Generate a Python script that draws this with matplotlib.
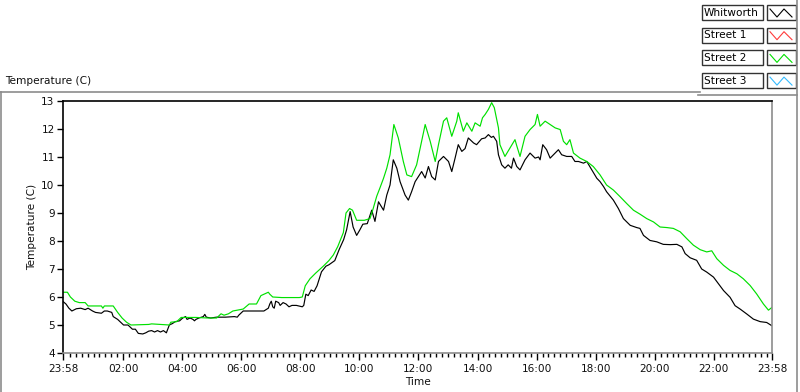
import numpy as np
import matplotlib
matplotlib.use("Agg")
import matplotlib.pyplot as plt
from matplotlib.lines import Line2D
from matplotlib.patches import Rectangle

# ---- data (hours since 23:58) ----
hours_whitworth = [0.0, 0.1, 0.2, 0.3, 0.45, 0.6, 0.75, 0.85, 1.0, 1.1, 1.3, 1.4, 1.5, 1.65, 1.7, 1.85,
                   1.95, 2.05, 2.2, 2.35, 2.45, 2.55, 2.7, 2.8, 2.9, 3.0, 3.1, 3.2, 3.3, 3.4, 3.5, 3.52,
                   3.6, 3.7, 3.8, 3.95, 4.05, 4.15, 4.2, 4.3, 4.4, 4.45, 4.5, 4.6, 4.75, 4.8, 4.85, 5.0,
                   5.2, 5.5, 5.8, 5.9, 5.95, 6.1, 6.4, 6.8, 6.95, 7.0, 7.05, 7.1, 7.15, 7.2, 7.3, 7.35,
                   7.45, 7.55, 7.65, 7.75, 7.9, 8.1, 8.15, 8.22, 8.3, 8.4, 8.5, 8.6, 8.75, 8.9, 9.0, 9.2,
                   9.35, 9.5, 9.6, 9.72, 9.82, 9.94, 10.05, 10.15, 10.3, 10.45, 10.56, 10.68, 10.85, 10.96,
                   11.07, 11.18, 11.3, 11.41, 11.58, 11.69, 11.8, 11.92, 12.03, 12.14, 12.26, 12.37, 12.48,
                   12.6, 12.71, 12.88, 13.05, 13.16, 13.27, 13.38, 13.5, 13.61, 13.72, 13.9, 14.0, 14.17,
                   14.29, 14.4, 14.5, 14.57, 14.68, 14.74, 14.85, 14.96, 15.07, 15.18, 15.25, 15.36, 15.47,
                   15.64, 15.81, 15.98, 16.1, 16.15, 16.24, 16.37, 16.49, 16.66, 16.77, 16.88, 17.05, 17.22,
                   17.33, 17.45, 17.62, 17.73, 17.9, 18.07, 18.18, 18.3, 18.4, 18.63, 18.8, 18.97, 19.2,
                   19.42, 19.53, 19.65, 19.87, 20.1, 20.32, 20.55, 20.78, 20.95, 21.06, 21.23, 21.45, 21.62,
                   21.79, 22.02, 22.19, 22.36, 22.58, 22.75, 22.92, 23.15, 23.37, 23.6, 23.82, 24.0]
temp_whitworth = [5.84, 5.75, 5.6, 5.5, 5.58, 5.6, 5.55, 5.6, 5.5, 5.45, 5.42, 5.5, 5.5, 5.45, 5.3, 5.2,
                  5.1, 5.0, 5.0, 4.85, 4.85, 4.7, 4.68, 4.72, 4.78, 4.8, 4.75, 4.8, 4.75, 4.8, 4.72, 4.78,
                  5.0, 5.05, 5.12, 5.15, 5.25, 5.3, 5.2, 5.25, 5.2, 5.15, 5.2, 5.25, 5.3, 5.38, 5.28, 5.25,
                  5.28, 5.28, 5.3, 5.28, 5.35, 5.5, 5.5, 5.5, 5.6, 5.75, 5.85, 5.65, 5.6, 5.85, 5.8, 5.7,
                  5.8, 5.75, 5.65, 5.7, 5.7, 5.65, 5.7, 6.1, 6.05, 6.25, 6.2, 6.4, 6.9, 7.1, 7.15, 7.3,
                  7.7, 8.05, 8.4, 9.05, 8.5, 8.2, 8.4, 8.6, 8.62, 9.1, 8.7, 9.4, 9.1, 9.64,
                  10.0, 10.9, 10.6, 10.12, 9.64, 9.46, 9.76, 10.12, 10.3, 10.48, 10.25, 10.66, 10.3,
                  10.18, 10.84, 11.02, 10.84, 10.48, 10.95, 11.44, 11.2, 11.3, 11.68, 11.5, 11.44, 11.65,
                  11.68, 11.8, 11.7, 11.74, 11.56, 11.08, 10.72, 10.6, 10.72, 10.6, 10.96, 10.66, 10.54,
                  10.9, 11.14, 10.96, 11.0, 10.9, 11.44, 11.26, 10.96, 11.14, 11.26, 11.08, 11.02, 11.02,
                  10.84, 10.84, 10.78, 10.84, 10.54, 10.24, 10.12, 9.94, 9.76, 9.46, 9.16, 8.8, 8.56,
                  8.48, 8.45, 8.2, 8.02, 7.97, 7.88, 7.87, 7.88, 7.79, 7.55, 7.4, 7.31, 7.0,
                  6.89, 6.71, 6.47, 6.23, 5.99, 5.69, 5.57, 5.39, 5.21, 5.12, 5.09, 4.97]

hours_street2 = [0.0, 0.15, 0.25, 0.4, 0.55, 0.75, 0.85, 1.3, 1.35, 1.4, 1.7, 1.85, 2.0, 2.15, 2.3, 2.9,
                 3.0, 3.3, 3.6, 3.65, 3.85, 4.0, 4.5, 4.9, 5.2, 5.35, 5.45, 5.6, 5.75, 6.1, 6.3, 6.55,
                 6.6, 6.7, 6.95, 7.0, 7.1, 7.4, 8.0, 8.1, 8.2, 8.36, 8.55, 8.81, 9.0, 9.15, 9.3, 9.49,
                 9.58, 9.7, 9.8, 9.94, 10.2, 10.39, 10.5, 10.62, 10.73, 10.85, 10.96, 11.07, 11.2, 11.35,
                 11.52, 11.64, 11.8, 11.97, 12.14, 12.26, 12.43, 12.6, 12.71, 12.88, 12.99, 13.16, 13.33,
                 13.38, 13.55, 13.67, 13.84, 13.95, 14.12, 14.2, 14.29, 14.4, 14.51, 14.6, 14.74, 14.79,
                 14.96, 15.13, 15.3, 15.36, 15.47, 15.64, 15.81, 15.98, 16.06, 16.15, 16.32, 16.49, 16.66,
                 16.83, 16.94, 17.05, 17.16, 17.28, 17.5, 17.73, 17.95, 18.18, 18.4, 18.63, 18.86, 19.08,
                 19.31, 19.53, 19.76, 19.99, 20.21, 20.44, 20.66, 20.89, 21.11, 21.34, 21.57, 21.79,
                 21.96, 22.13, 22.36, 22.58, 22.81, 23.03, 23.26, 23.48, 23.71, 23.88, 24.0]
temp_street2 = [6.17, 6.17, 6.0, 5.85, 5.8, 5.8, 5.68, 5.68, 5.6, 5.68, 5.68, 5.45, 5.25, 5.1, 5.0, 5.02,
                5.04, 5.02, 5.0, 5.1, 5.12, 5.27, 5.27, 5.25, 5.25, 5.4, 5.35, 5.4, 5.5, 5.57, 5.75, 5.75,
                5.85, 6.05, 6.17, 6.1, 6.0, 5.98, 5.98, 6.0, 6.4, 6.65, 6.85, 7.1, 7.3, 7.5, 7.8, 8.3,
                9.0, 9.16, 9.1, 8.74, 8.74, 8.8, 9.16, 9.6, 9.9, 10.24, 10.6, 11.08, 12.16, 11.68,
                10.84, 10.36, 10.3, 10.72, 11.56, 12.16, 11.56, 10.84, 11.44, 12.28, 12.4, 11.74, 12.28,
                12.58, 11.92, 12.22, 11.92, 12.22, 12.1, 12.4, 12.52, 12.7, 12.94, 12.76, 12.04, 11.44,
                11.02, 11.32, 11.62, 11.4, 11.02, 11.74, 11.98, 12.16, 12.52, 12.1, 12.28, 12.16, 12.04,
                11.98, 11.56, 11.44, 11.62, 11.14, 10.96, 10.84, 10.66, 10.36, 10.0, 9.82, 9.58, 9.34,
                9.1, 8.96, 8.8, 8.68, 8.5, 8.48, 8.45, 8.33, 8.09, 7.85, 7.69, 7.61,
                7.65, 7.37, 7.13, 6.95, 6.83, 6.65, 6.41, 6.11, 5.75, 5.53, 5.63]

legend_names = ["Whitworth", "Street 1", "Street 2", "Street 3"]
legend_colors = ["#000000", "#ff3b3b", "#00e000", "#33bbff"]

x_tick_pos = [0.0] + [h + 2 / 60 for h in range(2, 24, 2)] + [24.0]
x_tick_labels = ["23:58", "02:00", "04:00", "06:00", "08:00", "10:00", "12:00",
                 "14:00", "16:00", "18:00", "20:00", "22:00", "23:58"]
y_ticks = [4, 5, 6, 7, 8, 9, 10, 11, 12, 13]

# ---- figure ----
W, H = 800, 392
fig = plt.figure(figsize=(W / 100, H / 100), dpi=100)
plt.rcParams['font.family'] = ['DejaVu Sans']
FS = 7.6
TXT = "#101010"


def fx(x):
    return x / W


def fy(y):
    return 1 - y / H


ax = fig.add_axes([fx(63), fy(353), fx(772) - fx(63), fy(101) - fy(353)])
ax.plot(hours_whitworth, temp_whitworth, color=legend_colors[0], lw=0.85)
ax.plot(hours_street2, temp_street2, color=legend_colors[2], lw=0.85)
ax.set_xlim(0, 24)
ax.set_ylim(4, 13)
ax.set_yticks(y_ticks)
ax.set_yticklabels([str(v) for v in y_ticks], fontsize=FS, color=TXT)
ax.set_xticks(x_tick_pos)
ax.set_xticklabels(x_tick_labels, fontsize=FS, color=TXT)
ax.set_xticks(np.arange(2 / 60 + 0.2, 24, 0.2), minor=True)
ax.tick_params(axis='x', which='major', length=5, width=1, direction='out', pad=3, color='black')
ax.tick_params(axis='x', which='minor', length=3, width=1, direction='out', color='black')
ax.tick_params(axis='y', which='major', length=4, width=1, direction='out', pad=2, color='black')
ax.spines['top'].set_color('black')
ax.spines['left'].set_color('black')
ax.spines['right'].set_color('#8c8c8c')
ax.spines['bottom'].set_color('#8c8c8c')
for s in ax.spines.values():
    s.set_linewidth(1.2)
ax.set_xlabel("Time", fontsize=FS, color=TXT, labelpad=2)
ax.set_ylabel("Temperature (C)", fontsize=FS, color=TXT, labelpad=3)

# outer panel
fig.add_artist(Line2D([fx(0), fx(700)], [fy(92), fy(92)], color='#8c8c8c', lw=1.2))
fig.add_artist(Line2D([fx(1), fx(1)], [fy(92), fy(392)], color='#8c8c8c', lw=1.2))
fig.add_artist(Line2D([fx(698), fx(797)], [fy(95), fy(95)], color='#8c8c8c', lw=1.2))
fig.add_artist(Line2D([fx(797), fx(797)], [fy(0), fy(392)], color='#8c8c8c', lw=1.2))
fig.text(fx(5), fy(81), "Temperature (C)", fontsize=FS, color=TXT, va='center', ha='left')

# legend
for i, (name, col) in enumerate(zip(legend_names, legend_colors)):
    y0 = 5 + i * 22.7
    fig.add_artist(Rectangle((fx(702), fy(y0 + 15)), fx(763) - fx(702), fy(y0) - fy(y0 + 15),
                             facecolor='white', edgecolor='#333333', lw=1.0))
    fig.add_artist(Rectangle((fx(767), fy(y0 + 15)), fx(796) - fx(767), fy(y0) - fy(y0 + 15),
                             facecolor='white', edgecolor='#333333', lw=1.0))
    fig.text(fx(704), fy(y0 + 7.5), name, fontsize=FS, color='black', va='center', ha='left')
    fig.add_artist(Line2D([fx(v) for v in [770, 777, 784, 792]],
                          [fy(v) for v in [y0 + 4, y0 + 12, y0 + 4, y0 + 12]],
                          color=col, lw=0.8))

fig.savefig("out.png", dpi=100)
